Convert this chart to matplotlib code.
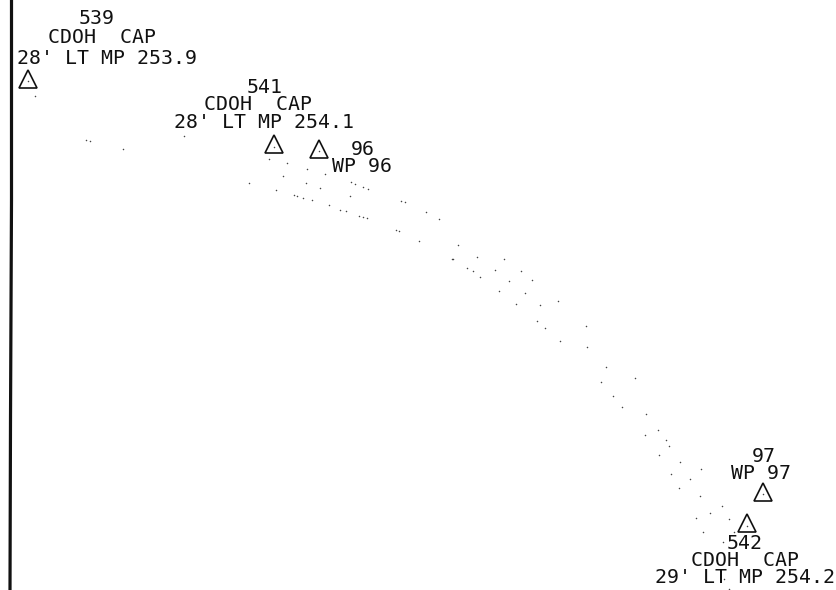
import matplotlib
matplotlib.use('Agg')
import matplotlib.pyplot as plt

# Survey stations (triangles)
station_x = [28, 274, 319, 763, 747]
station_y = [78.5, 144, 148.5, 491.5, 522.5]

# Scattered ground shots
dot_x = [35, 86, 90, 123, 184, 269, 287, 307, 325, 283, 249, 306, 320, 276, 351, 355, 363, 368,
         294, 297, 303, 312, 350, 329, 340, 346, 359, 363, 367, 401, 405, 426, 439, 396, 399,
         419, 458, 452, 453, 477, 504, 467, 473, 495, 521, 480, 509, 532, 499, 525, 516, 540,
         558, 537, 545, 586, 560, 587, 606, 601, 635, 613, 622, 646, 658, 645, 666, 669, 659,
         680, 701, 671, 690, 679, 700, 722, 710, 696, 729, 734, 703, 723, 724, 729,
         28, 274, 319, 763, 747]
dot_y = [96, 140, 141, 149, 136, 159, 163, 169, 174, 176, 183, 183, 188, 190, 182, 184, 187, 189,
         195, 196, 198, 200, 196, 205, 210, 211, 216, 217, 218, 201, 202, 212, 219, 230, 231,
         241, 245, 259, 259, 257, 259, 268, 271, 270, 271, 277, 281, 280, 291, 293, 304, 305,
         301, 321, 328, 326, 341, 347, 367, 382, 378, 396, 407, 414, 430, 435, 440, 446, 455,
         462, 469, 474, 479, 488, 496, 506, 513, 518, 519, 532, 532, 542, 579, 589,
         81, 147, 151, 494, 526]

# Left border line
border_x = [11.5, 11.5, 10.5, 10]
border_y = [0, 200, 420, 590]

labels = ["539", "CDOH  CAP", "28' LT MP 253.9",
          "541", "CDOH  CAP", "28' LT MP 254.1",
          "96", "WP 96",
          "97", "WP 97",
          "542", "CDOH  CAP", "29' LT MP 254.2"]
label_x = [97, 102, 107, 265, 258.5, 264.5, 362.5, 362.5, 763.5, 761.5, 745, 745, 745.5]
label_y = [24, 43, 64, 93, 110, 128, 155, 172, 462, 479, 549, 566, 583]

fig = plt.figure(figsize=(8.37, 5.90), dpi=100)
ax = fig.add_axes([0, 0, 1, 1])
ax.set_xlim(0, 837)
ax.set_ylim(590, 0)
ax.axis('off')

ax.plot(border_x, border_y, color='#111111', lw=2.3, solid_capstyle='butt')
ax.plot(dot_x, dot_y, ls='none', marker='o', ms=1.1, mew=0, color='#444444')
ax.plot(station_x, station_y, ls='none', marker='^', ms=13.6, mfc='none', mec='#111111', mew=1.2)

for text, x, y in zip(labels, label_x, label_y):
    ax.text(x, y, text, family='DejaVu Sans Mono', fontsize=14.3, color='#111111',
            ha='center', va='baseline')

fig.savefig('out.png', dpi=100)
